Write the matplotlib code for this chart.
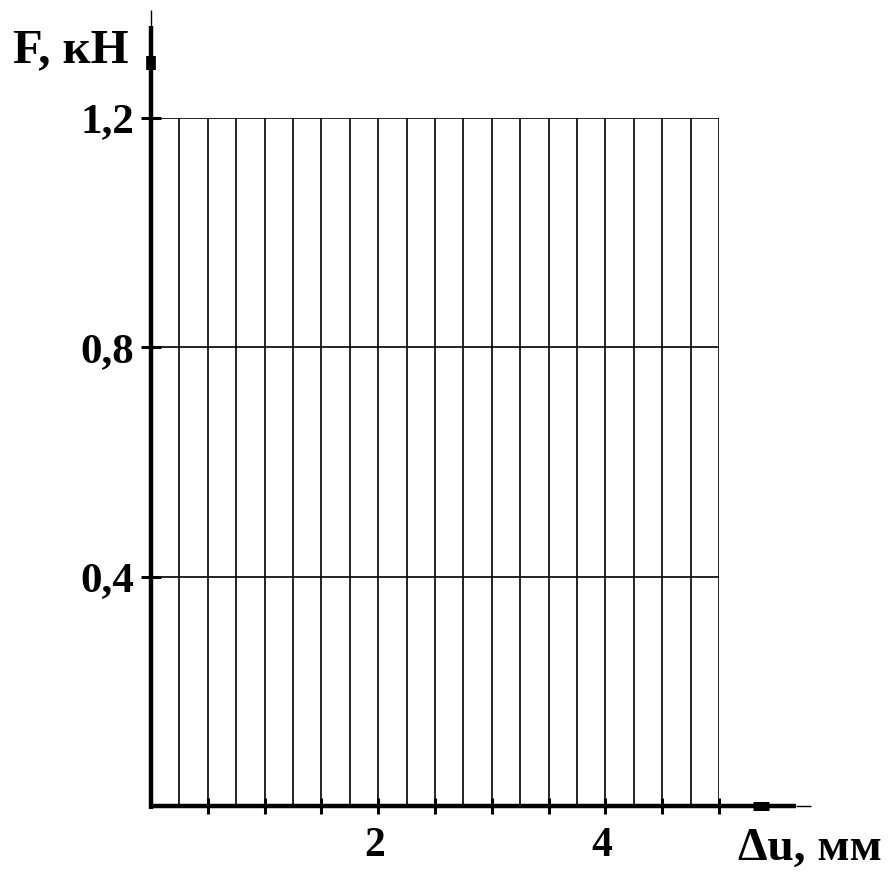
import matplotlib
matplotlib.use("Agg")
import matplotlib.pyplot as plt
from matplotlib.transforms import ScaledTranslation

# ---- data ----
x_grid = [0.25, 0.5, 0.75, 1.0, 1.25, 1.5, 1.75, 2.0, 2.25, 2.5, 2.75, 3.0,
          3.25, 3.5, 3.75, 4.0, 4.25, 4.5, 4.75, 5.0]
y_grid = [0.4, 0.8, 1.2]
x_ticks = [0.5, 1.0, 1.5, 2.0, 2.5, 3.0, 3.5, 4.0, 4.5, 5.0]
x_tick_labels = ["", "", "", "2", "", "", "", "4", "", ""]
y_ticks = [0.4, 0.8, 1.2]
y_tick_labels = ["0,4", "0,8", "1,2"]
x_label = "Δu, мм"
y_label = "F, кН"

plt.rcParams['font.family'] = ['Liberation Serif', 'DejaVu Serif']
plt.rcParams['font.weight'] = 'bold'

W, H = 891, 872
fig = plt.figure(figsize=(W / 100, H / 100), dpi=100)
x0px, x1px = 151, 719
y0px, y1px = 806, 118
ax = fig.add_axes([x0px / W, 1 - y0px / H, (x1px - x0px) / W, (y0px - y1px) / H])
xmax, ymax = 5.0, 1.2
ax.set_xlim(0, xmax)
ax.set_ylim(0, ymax)
for s in ax.spines.values():
    s.set_visible(False)

# grid
ax.vlines(x_grid, 0, ymax, colors='black', lw=1.2, zorder=1)
ax.hlines(y_grid, 0, xmax, colors='black', lw=1.2, zorder=1)

# axis lines (decorations extending past the data region)
ax.plot([0, xmax * 1.136], [0, 0], color='black', lw=3.2, clip_on=False,
        solid_capstyle='butt', zorder=3)
ax.plot([xmax * 1.136, xmax * 1.162], [0, 0], color='black', lw=1.0, clip_on=False,
        solid_capstyle='butt', zorder=3)
ax.plot([xmax * 1.06, xmax * 1.088], [0, 0], color='black', lw=6.5, clip_on=False,
        solid_capstyle='butt', zorder=3)

ax.plot([0, 0], [-0.006, ymax * 1.133], color='black', lw=3.2, clip_on=False,
        solid_capstyle='butt', zorder=3)
ax.plot([0, 0], [ymax * 1.133, ymax * 1.157], color='black', lw=1.0, clip_on=False,
        solid_capstyle='butt', zorder=3)
ax.plot([0, 0], [ymax * 1.07, ymax * 1.09], color='black', lw=7.0, clip_on=False,
        solid_capstyle='butt', zorder=3)

# ticks
ax.set_xticks(x_ticks, x_tick_labels)
ax.set_yticks(y_ticks, y_tick_labels)
ax.tick_params(axis='x', direction='inout', length=12, width=2.2, pad=9,
               labelsize=30, colors='black')
ax.tick_params(axis='y', direction='inout', length=14, width=2.2, pad=5,
               labelsize=31, colors='black')
shift = ScaledTranslation(-4 / 100, 0, fig.dpi_scale_trans)
for lab in ax.get_xticklabels():
    lab.set_fontweight('bold')
    lab.set_transform(lab.get_transform() + shift)
for lab in ax.get_yticklabels():
    lab.set_fontweight('bold')

# axis titles
fig.text(13 / W, 1 - 62 / H, y_label, ha='left', va='baseline', fontsize=35,
         fontweight='bold')
fig.text(882 / W, 1 - 860 / H, x_label, ha='right', va='baseline', fontsize=34,
         fontweight='bold')

fig.savefig("out.png", dpi=100)
